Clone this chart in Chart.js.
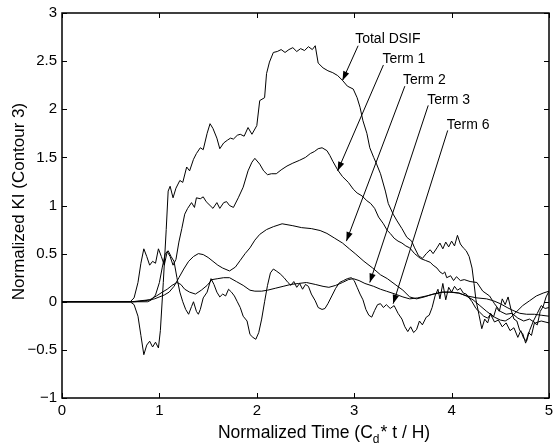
<!DOCTYPE html>
<html>
<head>
<meta charset="utf-8">
<script src="https://cdn.jsdelivr.net/npm/chart.js@4.4.1/dist/chart.umd.min.js"></script>
<style>
  html, body { margin: 0; padding: 0; background: #fff; }
  #wrap { width: 553px; height: 447px; }
</style>
</head>
<body>
<div id="wrap"><canvas id="kiChart" width="553" height="447"></canvas></div>
<script>
// === Data (x = normalized time, y = normalized KI) ===
const xTicks = [0, 1, 2, 3, 4, 5];
const yTicks = [-1, -0.5, 0, 0.5, 1, 1.5, 2, 2.5, 3];

const totalDSIF = [
  [0,0],[0.7,0],[0.74,-0.03],[0.78,-0.15],[0.81,-0.35],[0.84,-0.55],[0.87,-0.45],[0.9,-0.41],[0.93,-0.47],[0.96,-0.42],
  [0.99,-0.48],[1.01,-0.3],[1.04,0.2],[1.07,0.75],[1.09,1.15],[1.11,1.2],[1.14,1.08],[1.17,1.18],[1.21,1.26],[1.24,1.24],
  [1.28,1.4],[1.31,1.36],[1.35,1.48],[1.38,1.54],[1.42,1.6],[1.45,1.58],[1.49,1.75],[1.52,1.85],[1.55,1.8],[1.59,1.7],
  [1.62,1.59],[1.66,1.65],[1.7,1.68],[1.73,1.7],[1.76,1.69],[1.8,1.73],[1.83,1.74],[1.87,1.72],[1.91,1.81],[1.95,1.74],
  [2.0,1.83],[2.03,2.09],[2.08,2.12],[2.1,2.37],[2.13,2.49],[2.17,2.59],[2.21,2.6],[2.25,2.62],[2.29,2.59],[2.33,2.62],
  [2.37,2.64],[2.41,2.6],[2.45,2.63],[2.49,2.61],[2.53,2.65],[2.57,2.62],[2.6,2.66],[2.63,2.48],[2.68,2.43],[2.73,2.4],
  [2.78,2.38],[2.83,2.35],[2.88,2.3],[2.93,2.24],[2.99,2.21],[3.03,2.12],[3.06,2.02],[3.09,1.88],[3.13,1.75],[3.16,1.6],
  [3.2,1.5],[3.23,1.43],[3.27,1.33],[3.32,1.15],[3.35,1.02],[3.4,0.91],[3.44,0.84],[3.49,0.76],[3.54,0.67],[3.59,0.63],
  [3.62,0.56],[3.66,0.48],[3.7,0.45],[3.74,0.5],[3.78,0.54],[3.81,0.5],[3.85,0.56],[3.88,0.61],[3.91,0.55],[3.94,0.62],
  [3.97,0.57],[4.0,0.63],[4.03,0.58],[4.06,0.69],[4.09,0.6],[4.12,0.56],[4.15,0.53],[4.18,0.47],[4.21,0.35],[4.23,0.19],
  [4.25,0.02],[4.28,-0.13],[4.31,-0.28],[4.34,-0.18],[4.37,-0.22],[4.4,-0.12],[4.43,-0.16],[4.46,-0.06],[4.49,-0.1],[4.52,0.03],
  [4.55,-0.03],[4.58,0.05],[4.61,-0.08],[4.64,-0.18],[4.67,-0.2],[4.7,-0.3],[4.73,-0.33],[4.76,-0.43],[4.79,-0.32],[4.82,-0.35],
  [4.85,-0.22],[4.88,-0.24],[4.91,-0.1],[4.94,-0.05],[4.97,0.05],[5.0,0.11]
];

const term1 = [
  [0,0],[0.7,0],[0.74,0.04],[0.78,0.2],[0.81,0.4],[0.84,0.55],[0.87,0.47],[0.9,0.38],[0.93,0.42],[0.96,0.4],
  [0.99,0.55],[1.02,0.47],[1.05,0.38],[1.08,0.52],[1.11,0.47],[1.14,0.38],[1.17,0.44],[1.2,0.62],[1.23,0.76],[1.26,0.91],
  [1.29,0.97],[1.33,1.03],[1.36,0.98],[1.38,1.08],[1.42,1.07],[1.45,1.09],[1.48,1.04],[1.52,1.0],[1.55,0.97],[1.59,1.03],
  [1.62,0.97],[1.66,1.03],[1.69,1.04],[1.72,1.0],[1.76,0.98],[1.81,1.08],[1.86,1.19],[1.91,1.36],[1.95,1.45],[1.98,1.49],
  [2.03,1.43],[2.07,1.36],[2.11,1.32],[2.15,1.33],[2.2,1.33],[2.25,1.37],[2.31,1.41],[2.37,1.44],[2.44,1.47],[2.5,1.5],
  [2.55,1.54],[2.59,1.56],[2.63,1.59],[2.67,1.6],[2.72,1.57],[2.75,1.52],[2.78,1.46],[2.83,1.37],[2.88,1.3],[2.94,1.24],
  [2.99,1.17],[3.03,1.13],[3.08,1.1],[3.13,1.05],[3.17,1.02],[3.21,0.97],[3.25,0.88],[3.3,0.81],[3.34,0.74],[3.37,0.71],
  [3.41,0.66],[3.45,0.63],[3.49,0.61],[3.53,0.58],[3.57,0.56],[3.62,0.5],[3.68,0.45],[3.73,0.43],[3.78,0.41],[3.81,0.38],
  [3.85,0.35],[3.88,0.31],[3.91,0.29],[3.93,0.31],[3.95,0.25],[3.99,0.27],[4.02,0.22],[4.05,0.26],[4.09,0.22],[4.13,0.23],
  [4.19,0.21],[4.26,0.2],[4.32,0.11],[4.39,0.06],[4.44,-0.02],[4.5,-0.1],[4.56,-0.13],[4.62,-0.12],[4.68,-0.17],[4.74,-0.2],
  [4.8,-0.18],[4.86,-0.22],[4.92,-0.2],[5.0,-0.22]
];

const term2 = [
  [0,0],[0.75,0],[0.85,0.01],[0.95,0.03],[1.05,0.07],[1.1,0.1],[1.15,0.16],[1.2,0.25],[1.25,0.34],[1.3,0.42],
  [1.35,0.47],[1.4,0.5],[1.45,0.49],[1.5,0.46],[1.55,0.42],[1.6,0.38],[1.65,0.35],[1.72,0.32],[1.78,0.36],[1.83,0.43],
  [1.88,0.5],[1.93,0.56],[1.98,0.64],[2.03,0.7],[2.1,0.75],[2.17,0.78],[2.26,0.81],[2.37,0.79],[2.46,0.77],[2.56,0.76],
  [2.65,0.74],[2.72,0.71],[2.8,0.66],[2.88,0.61],[2.95,0.55],[3.01,0.5],[3.1,0.42],[3.19,0.35],[3.27,0.28],[3.34,0.24],
  [3.42,0.18],[3.5,0.12],[3.57,0.05],[3.64,0.03],[3.72,0.05],[3.81,0.08],[3.9,0.1],[3.98,0.1],[4.07,0.09],[4.16,0.06],
  [4.26,0.04],[4.36,0.03],[4.43,0.01],[4.5,-0.02],[4.57,-0.06],[4.63,-0.09],[4.7,-0.12],[4.77,-0.13],[4.85,-0.13],[4.92,-0.14],
  [5.0,-0.15]
];

const term3 = [
  [0,0],[0.72,0],[0.8,0.01],[0.9,0.02],[0.97,0.06],[1.03,0.1],[1.08,0.13],[1.13,0.17],[1.18,0.2],[1.22,0.18],
  [1.26,0.13],[1.31,0.1],[1.37,0.08],[1.43,0.12],[1.49,0.17],[1.54,0.23],[1.6,0.24],[1.66,0.25],[1.72,0.25],[1.79,0.21],
  [1.86,0.17],[1.93,0.12],[1.98,0.11],[2.05,0.11],[2.11,0.12],[2.19,0.14],[2.27,0.16],[2.35,0.18],[2.43,0.19],[2.51,0.2],
  [2.6,0.18],[2.68,0.16],[2.74,0.15],[2.81,0.17],[2.88,0.2],[2.94,0.23],[2.99,0.24],[3.05,0.22],[3.11,0.19],[3.2,0.16],
  [3.27,0.13],[3.33,0.11],[3.42,0.08],[3.5,0.05],[3.57,0.03],[3.65,0.04],[3.74,0.06],[3.82,0.08],[3.91,0.1],[4.0,0.1],
  [4.08,0.09],[4.15,0.06],[4.22,0.02],[4.29,-0.04],[4.36,-0.1],[4.44,-0.16],[4.5,-0.19],[4.55,-0.2],[4.6,-0.17],[4.66,-0.11],
  [4.73,-0.04],[4.8,0.01],[4.87,0.06],[4.94,0.09],[5.0,0.11]
];

const term6 = [
  [0,0],[0.88,0],[0.92,0.02],[0.96,0.07],[1.0,0.2],[1.03,0.36],[1.06,0.5],[1.09,0.53],[1.12,0.47],[1.15,0.42],
  [1.18,0.25],[1.21,0.1],[1.24,0.0],[1.27,-0.08],[1.3,-0.13],[1.33,-0.05],[1.35,0.0],[1.38,-0.1],[1.4,-0.13],[1.42,-0.08],
  [1.45,0.04],[1.49,0.1],[1.53,0.24],[1.56,0.18],[1.59,0.1],[1.62,0.05],[1.65,0.08],[1.68,0.06],[1.71,0.13],[1.74,0.1],
  [1.77,0.06],[1.8,0.0],[1.83,-0.06],[1.86,-0.15],[1.9,-0.2],[1.93,-0.34],[1.96,-0.37],[1.99,-0.39],[2.02,-0.32],[2.05,-0.18],
  [2.08,0.0],[2.11,0.17],[2.14,0.3],[2.17,0.34],[2.2,0.32],[2.24,0.29],[2.28,0.25],[2.32,0.2],[2.35,0.17],[2.38,0.21],
  [2.41,0.15],[2.44,0.19],[2.47,0.13],[2.5,0.18],[2.53,0.16],[2.56,0.08],[2.6,0.01],[2.63,-0.06],[2.67,-0.08],[2.7,-0.07],
  [2.73,-0.02],[2.77,0.06],[2.81,0.14],[2.85,0.2],[2.89,0.22],[2.93,0.24],[2.97,0.25],[3.0,0.22],[3.03,0.15],[3.06,0.08],
  [3.09,0.02],[3.12,-0.08],[3.15,-0.14],[3.18,-0.16],[3.21,-0.09],[3.24,-0.03],[3.27,-0.02],[3.3,-0.06],[3.33,-0.03],[3.37,-0.07],
  [3.41,-0.04],[3.45,-0.12],[3.49,-0.18],[3.52,-0.26],[3.55,-0.31],[3.58,-0.26],[3.61,-0.32],[3.64,-0.29],[3.67,-0.2],[3.7,-0.24],
  [3.74,-0.16],[3.77,-0.14],[3.8,-0.06],[3.83,0.06],[3.86,0.13],[3.88,0.03],[3.91,0.19],[3.94,0.02],[3.97,0.15],[4.0,0.1],
  [4.03,0.16],[4.06,0.12],[4.09,0.14],[4.12,0.09],[4.15,0.08],[4.18,0.04],[4.21,0.0],[4.25,-0.07],[4.29,-0.11],[4.33,-0.15],
  [4.37,-0.17],[4.4,-0.13],[4.44,-0.21],[4.48,-0.19],[4.52,-0.26],[4.56,-0.22],[4.6,-0.3],[4.64,-0.27],[4.68,-0.37],[4.71,-0.3],
  [4.74,-0.38],[4.77,-0.41],[4.8,-0.3],[4.84,-0.2],[4.88,-0.12],[4.92,-0.04],[4.96,-0.07],[5.0,-0.06]
];

// annotation labels (text anchor, arrow tail, arrow tip) in data units
const annoLabels = ["Total DSIF", "Term 1", "Term 2", "Term 3", "Term 6"];
const annoText = [[3.01, 2.73], [3.29, 2.52], [3.5, 2.3], [3.75, 2.09], [3.95, 1.83]];
const annoTail = [[3.04, 2.66], [3.3, 2.46], [3.52, 2.24], [3.76, 2.04], [3.96, 1.78]];
const annoTip = [[2.88, 2.3], [2.83, 1.36], [2.92, 0.63], [3.16, 0.2], [3.4, -0.02]];

const FONT = "'Liberation Sans', Arial, Helvetica, sans-serif";

// === MATLAB-ish frame: box, inward ticks, axis labels, text arrows ===
const matlabFrame = {
  id: "matlabFrame",
  afterDraw(chart) {
    const c = chart.ctx;
    const a = chart.chartArea;
    const xs = chart.scales.x, ys = chart.scales.y;
    c.save();
    c.strokeStyle = "#000";
    c.lineWidth = 1.5;
    c.strokeRect(a.left, a.top, a.right - a.left, a.bottom - a.top);

    // inward ticks on all four sides
    c.lineWidth = 1;
    c.beginPath();
    xTicks.forEach((v) => {
      const px = Math.round(xs.getPixelForValue(v)) + 0.5;
      c.moveTo(px, a.bottom); c.lineTo(px, a.bottom - 5);
      c.moveTo(px, a.top); c.lineTo(px, a.top + 5);
    });
    yTicks.forEach((v) => {
      const py = Math.round(ys.getPixelForValue(v)) + 0.5;
      c.moveTo(a.left, py); c.lineTo(a.left + 5, py);
      c.moveTo(a.right, py); c.lineTo(a.right - 5, py);
    });
    c.stroke();

    // y axis title
    c.fillStyle = "#000";
    c.font = "17px " + FONT;
    c.textAlign = "center";
    c.textBaseline = "middle";
    c.save();
    c.translate(19, (a.top + a.bottom) / 2 - 4);
    c.rotate(-Math.PI / 2);
    c.fillText("Normalized KI (Contour 3)", 0, 0);
    c.restore();

    // x axis title with subscript d
    const p1 = "Normalized Time (C", p3 = "* t / H)";
    c.font = "17.5px " + FONT;
    const w1 = c.measureText(p1).width, w3 = c.measureText(p3).width;
    c.font = "12px " + FONT;
    const w2 = c.measureText("d").width;
    let x0 = (a.left + a.right) / 2 + 18 - (w1 + w2 + w3) / 2;
    const yb = 438;
    c.textAlign = "left";
    c.textBaseline = "alphabetic";
    c.font = "17.5px " + FONT;
    c.fillText(p1, x0, yb);
    c.font = "12px " + FONT;
    c.fillText("d", x0 + w1, yb + 5);
    c.font = "17.5px " + FONT;
    c.fillText(p3, x0 + w1 + w2 + 1, yb);

    // text arrows
    c.font = "14px " + FONT;
    c.textBaseline = "middle";
    annoLabels.forEach((lab, i) => {
      c.fillText(lab, xs.getPixelForValue(annoText[i][0]), ys.getPixelForValue(annoText[i][1]));
      const x1 = xs.getPixelForValue(annoTail[i][0]), y1 = ys.getPixelForValue(annoTail[i][1]);
      const x2 = xs.getPixelForValue(annoTip[i][0]), y2 = ys.getPixelForValue(annoTip[i][1]);
      c.beginPath();
      c.moveTo(x1, y1); c.lineTo(x2, y2);
      c.stroke();
      const ang = Math.atan2(y2 - y1, x2 - x1);
      const L = 9, W = 3.2;
      c.beginPath();
      c.moveTo(x2, y2);
      c.lineTo(x2 - L * Math.cos(ang) + W * Math.sin(ang), y2 - L * Math.sin(ang) - W * Math.cos(ang));
      c.lineTo(x2 - L * Math.cos(ang) - W * Math.sin(ang), y2 - L * Math.sin(ang) + W * Math.cos(ang));
      c.closePath();
      c.fill();
    });
    c.restore();
  },
};

function series(label, pts) {
  return {
    label,
    data: pts.map((p) => ({ x: p[0], y: p[1] })),
    borderColor: "#000",
    borderWidth: 1,
    pointRadius: 0,
    tension: 0,
    fill: false,
  };
}

new Chart(document.getElementById("kiChart"), {
  type: "line",
  data: {
    datasets: [
      series("Total DSIF", totalDSIF),
      series("Term 1", term1),
      series("Term 2", term2),
      series("Term 3", term3),
      series("Term 6", term6),
    ],
  },
  options: {
    responsive: false,
    animation: false,
    layout: { padding: { top: 13, right: 4, left: 0, bottom: 0 } },
    plugins: { legend: { display: false }, tooltip: { enabled: false } },
    scales: {
      x: {
        type: "linear",
        min: 0,
        max: 5,
        afterFit: (s) => { s.height = 49; s.paddingLeft = 0; s.paddingRight = 0; },
        afterBuildTicks: (s) => { s.ticks = xTicks.map((v) => ({ value: v })); },
        grid: { display: false, drawTicks: false },
        border: { display: false },
        ticks: { color: "#000", font: { family: FONT, size: 15 }, padding: 4, maxRotation: 0 },
      },
      y: {
        type: "linear",
        min: -1,
        max: 3,
        afterFit: (s) => { s.width = 62; s.paddingTop = 0; s.paddingBottom = 0; },
        afterBuildTicks: (s) => { s.ticks = yTicks.map((v) => ({ value: v })); },
        grid: { display: false, drawTicks: false },
        border: { display: false },
        ticks: {
          color: "#000",
          font: { family: FONT, size: 15 },
          padding: 5,
          callback: (v) => (v < 0 ? "\u2212" + Math.abs(v) : String(v)),
        },
      },
    },
  },
  plugins: [matlabFrame],
});
</script>
</body>
</html>
